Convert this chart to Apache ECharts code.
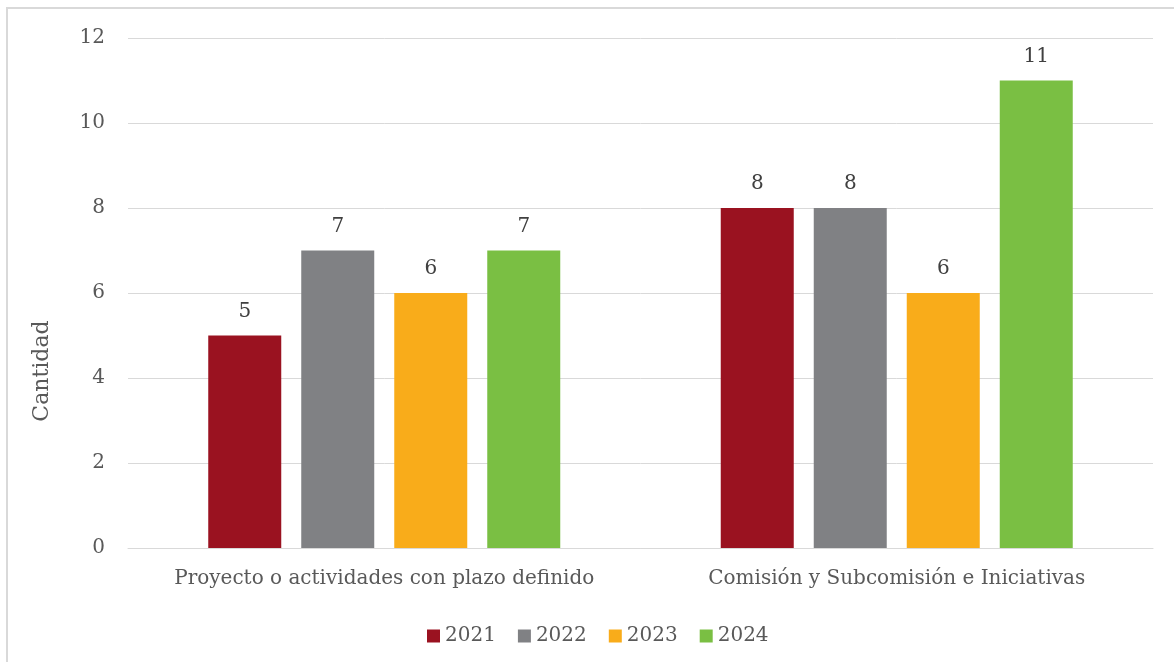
<!DOCTYPE html>
<html>
<head>
<meta charset="utf-8">
<script src="https://cdn.jsdelivr.net/npm/echarts@6/dist/echarts.min.js"></script>
<style>html,body{margin:0;padding:0;background:#fff}#c{width:1174px;height:662px}</style>
</head>
<body>
<div id="c"></div>
<script>
const categories = ['Proyecto o actividades con plazo definido', 'Comisión y Subcomisión e Iniciativas'];
const seriesNames = ['2021', '2022', '2023', '2024'];
const values2021 = [5, 8];
const values2022 = [7, 8];
const values2023 = [6, 6];
const values2024 = [7, 11];
const colors = ['#9A1220', '#808184', '#F9AC1A', '#7ABF43'];
const yAxisTitle = 'Cantidad';

const FONT = 'DejaVu Serif';
const allValues = [values2021, values2022, values2023, values2024];

const chart = echarts.init(document.getElementById('c'), null, {renderer: 'canvas'});
chart.setOption({
  animation: false,
  backgroundColor: '#fff',
  textStyle: {fontFamily: FONT},
  grid: {left: 128, right: 21, top: 38, bottom: 114, containLabel: false},
  legend: {
    data: seriesNames,
    left: 422,
    top: 621,
    itemWidth: 13,
    itemHeight: 13,
    itemGap: 22,
    icon: 'rect',
    textStyle: {fontFamily: FONT, fontSize: 20, color: '#595959'}
  },
  xAxis: {
    type: 'category',
    data: categories,
    axisLine: {show: true, lineStyle: {color: '#d9d9d9', width: 1}},
    axisTick: {show: false},
    axisLabel: {interval: 0, margin: 21, fontFamily: FONT, fontSize: 20, color: '#595959'}
  },
  yAxis: {
    type: 'value',
    min: 0, max: 12, interval: 2,
    axisLine: {show: false},
    axisTick: {show: false},
    splitLine: {lineStyle: {color: '#d9d9d9', width: 1}},
    axisLabel: {margin: 23, fontFamily: FONT, fontSize: 20, color: '#595959'}
  },
  graphic: [
    {type: 'rect', shape: {x: 7, y: 8, width: 1180, height: 660}, style: {fill: 'none', stroke: '#d9d9d9', lineWidth: 2}, silent: true, z: -1},
    {type: 'text', x: 42, y: 371, rotation: Math.PI / 2, style: {text: yAxisTitle, fontFamily: FONT, fontSize: 22, fill: '#595959', align: 'center', verticalAlign: 'middle'}}
  ],
  series: seriesNames.map((n, i) => ({
    name: n,
    type: 'bar',
    data: allValues[i],
    barWidth: 73,
    barGap: '27.4%',
    itemStyle: {color: colors[i]},
    label: {show: true, position: 'top', distance: 14, fontFamily: FONT, fontSize: 20, color: '#404040'}
  }))
});
</script>
</body>
</html>
